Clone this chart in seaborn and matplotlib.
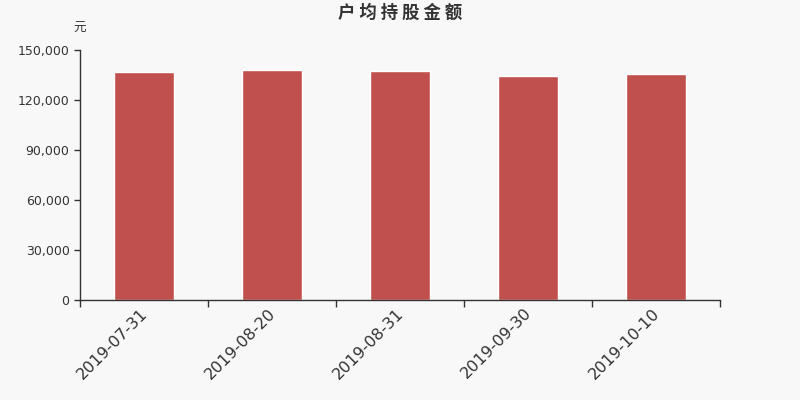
import pandas as pd
import numpy as np
import seaborn as sns
import matplotlib.pyplot as plt
from matplotlib.ticker import FuncFormatter, FixedLocator
from matplotlib.transforms import ScaledTranslation

# Data
dates = ["2019-07-31", "2019-08-20", "2019-08-31", "2019-09-30", "2019-10-10"]
amounts = [136800, 138200, 137200, 134600, 135600]
yticks = [0, 30000, 60000, 90000, 120000, 150000]

df = pd.DataFrame({"date": dates, "amount": amounts})

sns.set_style("ticks")
plt.rcParams["font.family"] = ["DejaVu Sans", "Noto Sans CJK SC"]

fig = plt.figure(figsize=(8, 4), dpi=100, facecolor="#f8f8f8")
ax = fig.add_axes([0.1, 0.25, 0.8, 0.625])
ax.set_facecolor("#f8f8f8")

sns.barplot(data=df, x="date", y="amount", color="#c0504d", saturation=1,
            width=0.47, ax=ax)

ax.set_xlim(-0.5, len(dates) - 0.5)
ax.set_ylim(0, 150000)
ax.set_yticks(yticks)
ax.yaxis.set_major_formatter(FuncFormatter(lambda v, p: f"{int(v):,}"))
ax.tick_params(axis="y", labelsize=9, colors="#333333", length=4, width=1)

ax.xaxis.set_minor_locator(FixedLocator(np.arange(-0.5, len(dates), 1.0)))
ax.tick_params(axis="x", which="major", length=0, labelsize=11.5,
               colors="#333333", pad=4)
ax.tick_params(axis="x", which="minor", length=5, width=1, color="#333333")
shift = ScaledTranslation(-4 / 100, 0, fig.dpi_scale_trans)
for lbl in ax.get_xticklabels():
    lbl.set_rotation(45)
    lbl.set_ha("right")
    lbl.set_rotation_mode("anchor")
    lbl.set_transform(lbl.get_transform() + shift)

ax.set_xlabel("")
ax.set_ylabel("")
for s in ["top", "right"]:
    ax.spines[s].set_visible(False)
for s in ["left", "bottom"]:
    ax.spines[s].set_color("#333333")
    ax.spines[s].set_linewidth(1)

fig.text(0.5, 0.9675, "户 均 持 股 金 额", ha="center", va="center",
         fontsize=12.5, fontweight="bold", color="#333333",
         family=["Noto Sans CJK SC", "DejaVu Sans"])
fig.text(0.1, 0.928, "元", ha="center", va="center", fontsize=9, color="#333333",
         family=["Noto Sans CJK SC", "DejaVu Sans"])

fig.savefig("out.png", dpi=100, facecolor=fig.get_facecolor())
